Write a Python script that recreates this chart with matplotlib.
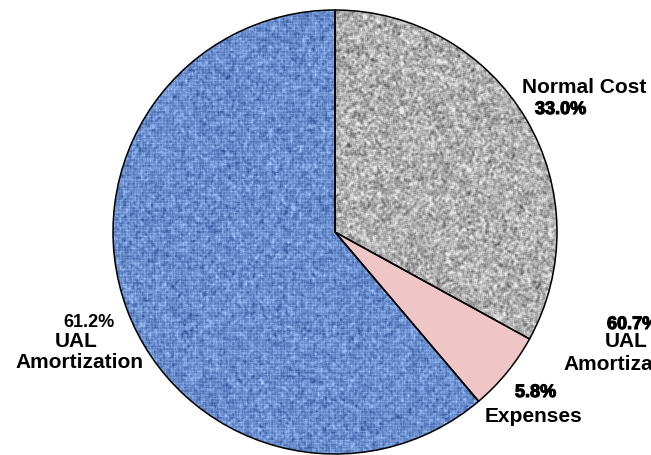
import matplotlib.pyplot as plt
import matplotlib.patches as mpatches
import matplotlib.patheffects as pe
import numpy as np

# pie data (share of total contribution, %)
categories = ['Normal Cost', 'Expenses', 'UAL Amortization']
shares = [33.0, 5.8, 61.2]
colors = ['#b4b4b4', '#f0c5c5', '#6487c6']
# stray overlapping label that sits at the right edge of the original
stray_share = 60.7

W, H = 651, 456
fig = plt.figure(figsize=(W / 100, H / 100), dpi=100)
ax = fig.add_axes([0, 0, 1, 1])

cx, cy, r = 335, H - 233, 222
wedges, _ = ax.pie(shares, colors=colors, startangle=90, counterclock=False,
                   center=(cx, cy), radius=r, frame=True,
                   wedgeprops=dict(linewidth=0))

# --- textures (purely decorative) ---
rng = np.random.default_rng(3)


def blur(a, k=1):
    out = a.copy()
    n = 1
    for dx in range(-k, k + 1):
        for dy in range(-k, k + 1):
            if dx == 0 and dy == 0:
                continue
            out += np.roll(np.roll(a, dx, 0), dy, 1)
            n += 1
    return out / n


size = 2 * r + 4
# gray speckle
g = blur(rng.normal(0, 1, (size, size)), 1)
g = g / g.std()
gray = np.clip(176 + 24 * g, 90, 235) / 255
gray_img = np.dstack([gray, gray, gray])

# blue woven look
yy, xx = np.mgrid[0:size, 0:size]
weave = 0.5 * ((yy % 3) == 0) + 0.5 * ((xx % 3) == 0)
nb = blur(rng.normal(0, 1, (size, size)), 1)
nb = nb / nb.std()
shade = 0.11 * weave + 0.07 * nb
base = np.array([98, 134, 198]) / 255
blue_img = np.clip(base[None, None, :] + shade[..., None] * np.array([0.9, 0.9, 0.8]), 0, 1)

ext = [cx - r - 2, cx + r + 2, cy - r - 2, cy + r + 2]
for w, img in [(wedges[0], gray_img), (wedges[2], blue_img)]:
    im = ax.imshow(img, extent=ext, origin='lower', interpolation='nearest', zorder=1.5)
    im.set_clip_path(w)

for w in wedges:
    ax.add_patch(mpatches.Wedge(w.center, w.r, w.theta1, w.theta2, fill=False,
                                edgecolor='black', linewidth=1.1, zorder=3))

ax.set_xlim(0, W)
ax.set_ylim(0, H)
ax.set_aspect('equal')
ax.axis('off')

font = ['Liberation Sans', 'DejaVu Sans']
heavy = [pe.withStroke(linewidth=0.8, foreground='black')]


def put(x, ybase, s, size, effects=None):
    ax.text(x, H - ybase, s, fontsize=size, fontweight='bold', family=font,
            ha='left', va='baseline', path_effects=effects, zorder=4)


pct = [f'{v:.1f}%' for v in shares]

# Normal Cost
put(522, 93, categories[0], 15)
put(535, 115, pct[0], 13, heavy)
# Expenses
put(515, 398, pct[1], 13, heavy)
put(485, 422, categories[1], 15)
# UAL Amortization
put(63, 327, pct[2], 13)
put(55, 347, 'UAL', 15)
put(15, 368, 'Amortization', 15)
# stray label cut by the right edge (as in the original)
put(607, 330, f'{stray_share:.1f}%', 13, heavy)
put(605, 347, 'UAL', 15)
put(563, 370, 'Amortization', 15)

fig.savefig('out.png', dpi=100)
